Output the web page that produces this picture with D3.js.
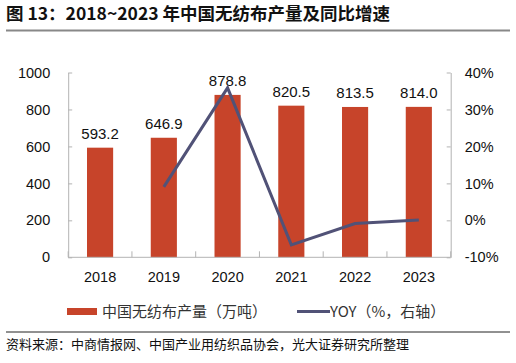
<!DOCTYPE html>
<html>
<head>
<meta charset="utf-8">
<script src="https://cdn.jsdelivr.net/npm/d3@7.9.0/dist/d3.min.js"></script>
<style>
  body { margin: 0; background: #fff; }
  text { font-family: "Liberation Sans", Arial, sans-serif; }
  .cjk { font-family: "Noto Sans CJK SC", sans-serif; }
</style>
</head>
<body>
<svg id="chart" width="516" height="363"></svg>
<script>
const years = ['2018', '2019', '2020', '2021', '2022', '2023'];
const output = [593.2, 646.9, 878.8, 820.5, 813.5, 814.0];
// YOY in %, first year has none
const yoy = [null, 9.05, 35.85, -6.63, -0.85, 0.06];
const leftTicks = [0, 200, 400, 600, 800, 1000];
const rightTicks = [-10, 0, 10, 20, 30, 40];

const svg = d3.select('#chart');
const barColor = '#c7442a';
const lineColor = '#515277';
const axisColor = '#b3b3b3';

// title
svg.append('text')
  .attr('class', 'cjk')
  .attr('x', 6).attr('y', 19.5)
  .attr('font-size', 17.5).attr('font-weight', 'bold')
  .attr('fill', '#111')
  .text('图 13：2018~2023 年中国无纺布产量及同比增速');
svg.append('line')
  .attr('x1', 6).attr('x2', 510).attr('y1', 30.5).attr('y2', 30.5)
  .attr('stroke', '#888').attr('stroke-width', 2);

let x = d3.scaleBand().domain(years).range([68.2, 450.7]).paddingInner(0.59).paddingOuter(0.295);
let yL = d3.scaleLinear().domain([0, 1000]).range([257.3, 72.5]);
let yR = d3.scaleLinear().domain([-10, 40]).range([257.3, 72.5]);

// bars
svg.selectAll('rect.bar')
  .data(output)
  .join('rect')
  .attr('class', 'bar')
  .attr('x', (d, i) => x(years[i]))
  .attr('width', x.bandwidth())
  .attr('y', d => yL(d))
  .attr('height', d => yL(0) - yL(d))
  .attr('fill', barColor);

// bar labels
svg.selectAll('text.lbl')
  .data(output)
  .join('text')
  .attr('class', 'lbl')
  .attr('x', (d, i) => x(years[i]) + x.bandwidth() / 2)
  .attr('y', d => yL(d) - 9)
  .attr('text-anchor', 'middle')
  .attr('font-size', 15)
  .attr('fill', '#111')
  .text(d => d.toFixed(1));

// axes
function styleAxis(g) {
  g.selectAll('path, line').attr('stroke', axisColor);
  g.selectAll('text').attr('font-size', 14.5).attr('fill', '#111')
    .attr('font-family', '"Liberation Sans", Arial, sans-serif');
}

svg.append('g')
  .attr('transform', 'translate(68.2,0)')
  .call(d3.axisRight(yL).tickValues(leftTicks).tickSize(4).tickSizeOuter(0).tickFormat(d3.format('d')))
  .call(g => g.selectAll('text').attr('x', -18).attr('text-anchor', 'end'))
  .call(styleAxis);

svg.append('g')
  .attr('transform', 'translate(450.7,0)')
  .call(d3.axisLeft(yR).tickValues(rightTicks).tickSize(4).tickSizeOuter(0).tickFormat(d => d + '%'))
  .call(g => g.selectAll('text').attr('x', 14).attr('text-anchor', 'start'))
  .call(styleAxis);

// x axis: ticks at category boundaries pointing up
const xAxis = svg.append('g').attr('transform', 'translate(0,257.3)');
xAxis.append('line')
  .attr('x1', 68.2).attr('x2', 450.7)
  .attr('stroke', axisColor);
const step = x.step();
xAxis.selectAll('line.tk')
  .data(d3.range(years.length + 1))
  .join('line')
  .attr('class', 'tk')
  .attr('x1', i => 68.2 + i * step).attr('x2', i => 68.2 + i * step)
  .attr('y1', 0).attr('y2', -6)
  .attr('stroke', axisColor);
xAxis.selectAll('text')
  .data(years)
  .join('text')
  .attr('x', d => x(d) + x.bandwidth() / 2)
  .attr('y', 25)
  .attr('text-anchor', 'middle')
  .attr('font-size', 14.5)
  .attr('fill', '#111')
  .text(d => d);

// yoy line
const line = d3.line()
  .defined(d => d != null)
  .x((d, i) => x(years[i]) + x.bandwidth() / 2)
  .y(d => yR(d));
svg.append('path')
  .datum(yoy)
  .attr('d', line)
  .attr('fill', 'none')
  .attr('stroke', lineColor)
  .attr('stroke-width', 3)
  .attr('stroke-linejoin', 'miter');

// legend
const lg = svg.append('g');
lg.append('rect')
  .attr('x', 67).attr('y', 308).attr('width', 30).attr('height', 7)
  .attr('fill', barColor);
lg.append('text')
  .attr('class', 'cjk')
  .attr('x', 102).attr('y', 317)
  .attr('font-size', 15).attr('fill', '#333')
  .text('中国无纺布产量（万吨）');
lg.append('line')
  .attr('x1', 297).attr('x2', 330).attr('y1', 311.5).attr('y2', 311.5)
  .attr('stroke', lineColor).attr('stroke-width', 3);
lg.append('text')
  .attr('class', 'cjk')
  .attr('x', 330).attr('y', 317)
  .attr('font-size', 15).attr('fill', '#333')
  .text('YOY（%，右轴）');

// footer
svg.append('line')
  .attr('x1', 6).attr('x2', 510).attr('y1', 332).attr('y2', 332)
  .attr('stroke', '#222').attr('stroke-width', 1);
svg.append('text')
  .attr('class', 'cjk')
  .attr('x', 6).attr('y', 349)
  .attr('font-size', 13).attr('fill', '#111')
  .text('资料来源：中商情报网、中国产业用纺织品协会，光大证券研究所整理');
</script>
</body>
</html>
